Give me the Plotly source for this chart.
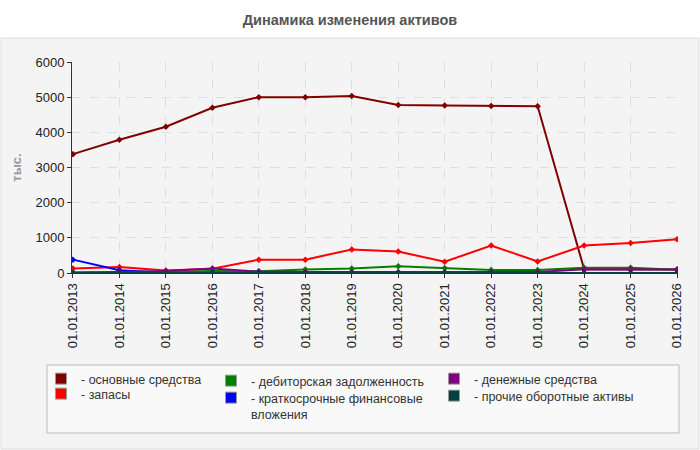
import plotly.graph_objects as go

dates = ["01.01.%d" % y for y in range(2013, 2027)]

osnovnye = [3380, 3790, 4160, 4700, 5000, 5000, 5030, 4780, 4760, 4750, 4740, 110, 105, 100]
zapasy = [130, 170, 70, 120, 380, 380, 670, 610, 320, 780, 330, 780, 850, 960]
debitor = [20, 20, 30, 60, 50, 100, 130, 190, 140, 85, 85, 150, 150, 95]
kfv = [380, 80, 10, 0, 0, 0, 0, 0, 0, 0, 0, 0, 0, 0]
dengi = [0, 30, 60, 125, 40, 30, 30, 30, 30, 30, 30, 110, 110, 100]
prochie = [0, 0, 0, 0, 0, 0, 0, 0, 0, 0, 0, 0, 0, 0]

series_names = [
    "- основные средства",
    "- запасы",
    "- дебиторская задолженность",
    "- краткосрочные финансовые<br>вложения",
    "- денежные средства",
    "- прочие оборотные активы",
]
series_values = [osnovnye, zapasy, debitor, kfv, dengi, prochie]
series_colors = ["#800000", "#ff0000", "#008000", "#0000ff", "#800080", "#004040"]

W = 606.0
H = 211.0
def px(x):
    return (x - 72) / W
def py(y):
    return (273 - y) / H

# legend placement (pixel positions of text start / row top)
legend_ids = ["legend", "legend2", "legend3", "legend4", "legend5", "legend6"]
legend_pos = [(80, 364), (80, 379), (250, 366), (250, 383), (473, 364), (473, 381)]

fig = go.Figure()
for name, vals, color in zip(series_names, series_values, series_colors):
    fig.add_trace(go.Scatter(
        x=dates, y=vals, name=name, mode="lines+markers",
        line=dict(color=color, width=2),
        marker=dict(symbol="diamond", size=5, color=color),
        showlegend=False,
    ))
for name, color, lg in zip(series_names, series_colors, legend_ids):
    fig.add_trace(go.Scatter(
        x=[None], y=[None], name=name, mode="markers",
        marker=dict(symbol="square", size=11, color=color, line=dict(color="#999999", width=1)),
        legend=lg, showlegend=True,
    ))

font = "Liberation Sans, Arial, sans-serif"
legends = {}
for lg, (tx, ty) in zip(legend_ids, legend_pos):
    legends[lg] = dict(
        orientation="v", yanchor="top", xanchor="left",
        x=px(tx - 39), y=py(ty), bgcolor="rgba(0,0,0,0)", borderwidth=0,
        font=dict(family=font, size=12.5, color="#333333"),
        itemwidth=30, valign="top",
    )

fig.update_layout(
    width=700, height=450,
    margin=dict(l=72, r=22, t=62, b=177),
    paper_bgcolor="white",
    plot_bgcolor="#fcfcf5",
    title=dict(text="<b>Динамика изменения активов</b>", x=0.5, xref="container", xanchor="center",
               y=1 - 20 / 450, yref="container", yanchor="middle",
               font=dict(family=font, size=14.5, color="#555555")),
    font=dict(family=font, size=13, color="#333333"),
    showlegend=True,
    xaxis=dict(
        type="category", tickangle=-90, showgrid=True, gridcolor="#dddddd", griddash="dash",
        showline=True, linecolor="#333333", linewidth=1, ticks="outside", ticklen=4,
        tickcolor="#333333", range=[-0.02, 13.02], zeroline=False,
        tickfont=dict(size=13, color="#222222"),
    ),
    yaxis=dict(
        range=[0, 6000], dtick=1000, showgrid=True, gridcolor="#dddddd", griddash="dash",
        showline=True, linecolor="#333333", linewidth=1, ticks="outside", ticklen=4,
        tickcolor="#333333", zeroline=False,
        title=dict(text="<b>тыс.</b>", font=dict(size=13, color="#999999"), standoff=10),
        tickfont=dict(size=13, color="#222222"),
    ),
    shapes=[
        dict(type="rect", xref="paper", yref="paper", x0=px(1), x1=px(699), y0=py(449), y1=py(38),
             fillcolor="#f4f4f4", line=dict(color="#dddddd", width=1), layer="below"),
        dict(type="rect", xref="paper", yref="paper", x0=px(47), x1=px(679), y0=py(433), y1=py(365),
             fillcolor="#f9f9f9", line=dict(color="#bbbbbb", width=1), layer="below"),
    ],
    **legends,
)

fig.write_html("out.html")
